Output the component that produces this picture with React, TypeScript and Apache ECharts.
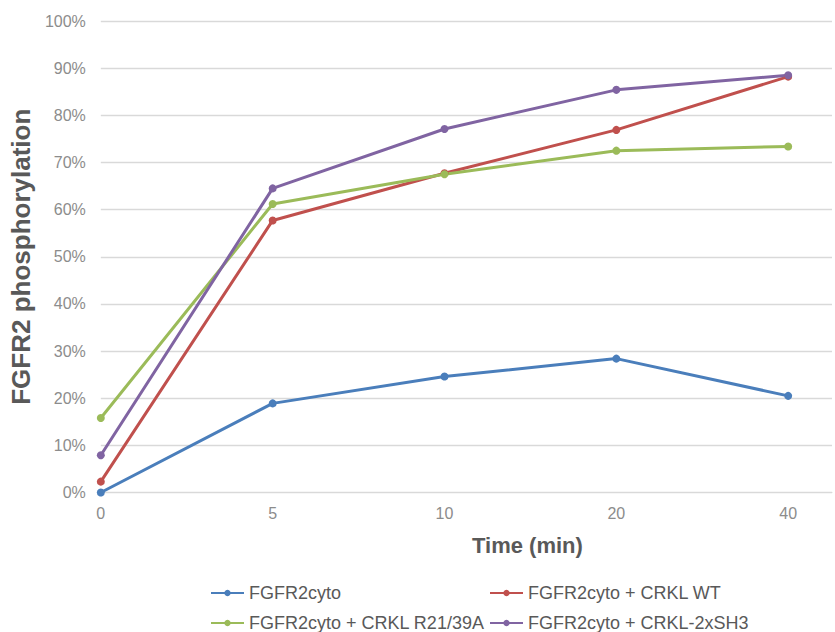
import React, { useEffect, useRef } from "react";
import * as echarts from "echarts";

const times = ["0", "5", "10", "20", "40"];
const seriesNames = [
  "FGFR2cyto",
  "FGFR2cyto + CRKL WT",
  "FGFR2cyto + CRKL R21/39A",
  "FGFR2cyto + CRKL-2xSH3",
];
const fgfr2cyto = [0, 18.9, 24.6, 28.4, 20.5];
const crklWT = [2.3, 57.7, 67.7, 76.9, 88.2];
const crklR2139A = [15.8, 61.2, 67.5, 72.5, 73.4];
const crkl2xSH3 = [7.9, 64.5, 77.1, 85.4, 88.5];
const colors = ["#4A7EBB", "#C0504D", "#9BBB59", "#8064A2"];
const yTicks = { min: 0, max: 100, interval: 10 };

export default function App() {
  const ref = useRef<HTMLDivElement>(null);
  useEffect(() => {
    if (!ref.current) return;
    const chart = echarts.init(ref.current, null, { renderer: "svg" });
    const all = [fgfr2cyto, crklWT, crklR2139A, crkl2xSH3];
    const legendPos = [
      { left: 210, top: 584 },
      { left: 489, top: 584 },
      { left: 210, top: 614 },
      { left: 489, top: 614 },
    ];
    chart.setOption({
      animation: false,
      color: colors,
      grid: { left: 97, right: 0, top: 21, bottom: 139.5, containLabel: false },
      legend: seriesNames.map((n, i) => ({
        data: [n],
        left: legendPos[i].left,
        top: legendPos[i].top,
        itemWidth: 33,
        itemHeight: 8,
        padding: 0,
        textStyle: { fontFamily: "Liberation Sans, Arial", fontSize: 18, color: "#595959" },
      })),
      graphic: [
        {
          type: "text",
          left: 530 - 58,
          top: 534,
          style: {
            text: "Time (min)",
            fontFamily: "Liberation Sans, Arial",
            fontSize: 22,
            fontWeight: "bold",
            fill: "#595959",
          },
        },
      ],
      xAxis: {
        type: "value",
        min: 0,
        max: 4.255,
        interval: 1,
        splitLine: { show: false },
        axisTick: { show: false },
        axisLine: { show: true, lineStyle: { color: "#d9d9d9", width: 1 } },
        axisLabel: {
          margin: 13,
          fontFamily: "Liberation Sans, Arial",
          fontSize: 16,
          color: "#8c8c8c",
          formatter: (v: number) => (Number.isInteger(v) && times[v] !== undefined ? times[v] : ""),
        },
      },
      yAxis: {
        type: "value",
        min: yTicks.min,
        max: yTicks.max,
        interval: yTicks.interval,
        axisLine: { show: false },
        axisTick: { show: false },
        splitLine: { lineStyle: { color: "#d9d9d9", width: 1.3 } },
        axisLabel: {
          margin: 15,
          fontFamily: "Liberation Sans, Arial",
          fontSize: 16,
          color: "#8c8c8c",
          formatter: "{value}%",
        },
        name: "FGFR2 phosphorylation",
        nameLocation: "middle",
        nameRotate: 90,
        nameGap: 63,
        nameTextStyle: {
          fontFamily: "Liberation Sans, Arial",
          fontSize: 26,
          fontWeight: "bold",
          color: "#595959",
        },
      },
      series: all.map((vals, i) => ({
        name: seriesNames[i],
        type: "line",
        data: vals.map((v, j) => [j, v]),
        symbol: "circle",
        symbolSize: 8,
        lineStyle: { width: 3, color: colors[i] },
        itemStyle: { color: colors[i] },
      })),
    });
    return () => chart.dispose();
  }, []);
  return <div ref={ref} style={{ width: 835, height: 632, position: "absolute", left: 0, top: 0 }} />;
}
